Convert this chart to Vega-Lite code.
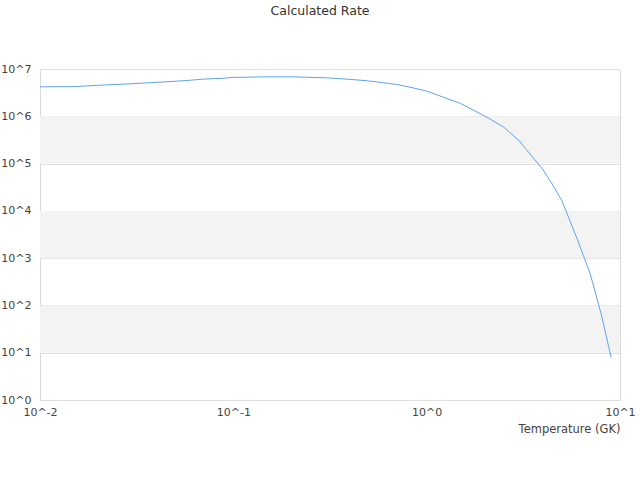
{
  "$schema": "https://vega.github.io/schema/vega-lite/v6.json",
  "autosize": "none",
  "padding": {"left": 40, "top": 69, "right": 20, "bottom": 80},
  "width": 580,
  "height": 331,
  "background": "white",
  "title": {
    "text": "Calculated Rate",
    "font": "DejaVu Sans",
    "fontSize": 12.5,
    "fontWeight": "normal",
    "color": "#333333",
    "offset": 46,
    "dx": -10
  },
  "config": {
    "view": {"stroke": "#d9d9d9", "strokeWidth": 1},
    "axis": {
      "labelFont": "DejaVu Sans",
      "labelFontSize": 11,
      "labelColor": "#444444",
      "titleFont": "DejaVu Sans",
      "titleFontSize": 11.5,
      "titleFontWeight": "normal",
      "titleColor": "#444444",
      "domain": false,
      "ticks": false,
      "tickSize": 0,
      "labelFlush": false,
      "gridColor": "#e0e0e0",
      "zindex": 1
    }
  },
  "datasets": {
    "rate": [
      {"T": 0.01, "rate": 4.20e6},
      {"T": 0.015, "rate": 4.24e6},
      {"T": 0.02, "rate": 4.52e6},
      {"T": 0.03, "rate": 4.89e6},
      {"T": 0.04, "rate": 5.22e6},
      {"T": 0.05, "rate": 5.50e6},
      {"T": 0.06, "rate": 5.79e6},
      {"T": 0.07, "rate": 6.11e6},
      {"T": 0.08, "rate": 6.27e6},
      {"T": 0.09, "rate": 6.38e6},
      {"T": 0.1, "rate": 6.64e6},
      {"T": 0.15, "rate": 6.84e6},
      {"T": 0.2, "rate": 6.84e6},
      {"T": 0.3, "rate": 6.52e6},
      {"T": 0.4, "rate": 6.05e6},
      {"T": 0.5, "rate": 5.60e6},
      {"T": 0.6, "rate": 5.13e6},
      {"T": 0.7, "rate": 4.70e6},
      {"T": 0.8, "rate": 4.22e6},
      {"T": 0.9, "rate": 3.78e6},
      {"T": 1.0, "rate": 3.42e6},
      {"T": 1.5, "rate": 1.86e6},
      {"T": 2.0, "rate": 1.01e6},
      {"T": 2.5, "rate": 5.93e5},
      {"T": 3.0, "rate": 3.07e5},
      {"T": 3.5, "rate": 1.43e5},
      {"T": 4.0, "rate": 7.41e4},
      {"T": 4.5, "rate": 3.47e4},
      {"T": 5.0, "rate": 1.66e4},
      {"T": 6.0, "rate": 2570},
      {"T": 7.0, "rate": 479},
      {"T": 8.0, "rate": 64.6},
      {"T": 9.0, "rate": 7.94}
    ],
    "bands": [
      {"lo": 10, "hi": 100},
      {"lo": 1000, "hi": 10000},
      {"lo": 100000, "hi": 1000000}
    ]
  },
  "layer": [
    {
      "data": {"name": "bands"},
      "mark": {"type": "rect", "color": "#f3f3f3"},
      "encoding": {
        "x": {"value": 0},
        "x2": {"value": "width"},
        "y": {
          "field": "lo",
          "type": "quantitative",
          "scale": {"type": "log", "domain": [1, 10000000]},
          "axis": {
            "title": null,
            "values": [1, 10, 100, 1000, 10000, 100000, 1000000, 10000000],
            "labelExpr": "'10^' + round(log(datum.value) / LN10)",
            "labelPadding": 9
          }
        },
        "y2": {"field": "hi"}
      }
    },
    {
      "data": {"name": "rate"},
      "mark": {"type": "line", "color": "#5ea3ee", "strokeWidth": 1, "clip": true},
      "encoding": {
        "x": {
          "field": "T",
          "type": "quantitative",
          "scale": {"type": "log", "domain": [0.01, 10]},
          "axis": {
            "title": "Temperature (GK)",
            "grid": false,
            "values": [0.01, 0.1, 1, 10],
            "labelExpr": "'10^' + round(log(datum.value) / LN10)",
            "labelPadding": 6,
            "titleAnchor": "end",
            "titlePadding": 6
          }
        },
        "y": {"field": "rate", "type": "quantitative"}
      }
    }
  ]
}
